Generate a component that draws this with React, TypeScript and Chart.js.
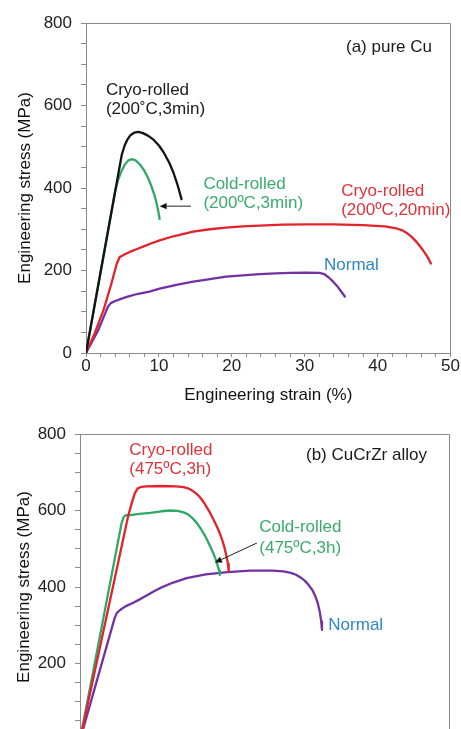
import React, { useEffect, useRef } from 'react';
import { Chart, registerables } from 'chart.js';

Chart.register(...registerables);

const FONT = "'Liberation Sans', Arial, Helvetica, sans-serif";

// ---------- (a) pure Cu ----------
const cuCryo3Strain = [0, 4.9, 5.3, 5.7, 6.1, 6.6, 7.2, 7.8, 8.5, 9.2, 10.0, 10.7, 11.4, 12.0, 12.6, 13.1];
const cuCryo3Stress = [0, 480, 503, 518, 528, 534, 536, 533, 527, 518, 503, 485, 462, 437, 405, 373];

const cuCold3Strain = [0, 4.0, 4.4, 4.9, 5.3, 5.8, 6.3, 6.8, 7.4, 8.0, 8.5, 9.0, 9.4, 9.7, 9.9, 10.1];
const cuCold3Stress = [0, 392, 420, 442, 456, 467, 470, 467, 457, 442, 425, 403, 382, 362, 345, 325];

const cuCryo20Strain = [0, 1.2, 2.4, 3.4, 4.2, 4.6, 5.2, 6.0, 7.0, 8.0, 9.0, 10.1, 12.0, 14.7, 17.0, 19.2, 21.5, 23.8, 27.0, 30.0, 34.0, 38.0, 41.0, 42.4, 43.3, 44.0, 44.7, 45.3, 45.9, 46.5, 47.0, 47.3];
const cuCryo20Stress = [0, 48, 104, 163, 215, 232, 238, 245, 252, 259, 266, 273, 283, 294, 300, 304, 307, 309, 311, 312, 312, 310, 307, 303, 298, 291, 281, 270, 257, 242, 228, 217];

const cuNormalStrain = [0, 1.7, 2.6, 3.0, 3.4, 4.0, 4.6, 5.6, 7.0, 8.7, 10.1, 12.4, 14.7, 17.0, 19.2, 21.5, 23.8, 26.0, 28.0, 30.0, 32.0, 32.7, 33.3, 33.9, 34.5, 35.0, 35.5];
const cuNormalStress = [0, 56, 95, 112, 121, 126, 130, 136, 143, 149, 156, 165, 173, 179, 185, 188, 191, 193, 194, 194.5, 194, 191, 183, 173, 161, 149, 137];

// ---------- (b) CuCrZr alloy ----------
const alloyCryoStrain = [0, 6.5, 7.0, 7.4, 7.8, 8.3, 9.0, 11.0, 13.0, 14.0, 14.6, 15.1, 15.6, 16.0, 16.4, 16.8, 17.2, 17.6, 18.0, 18.4, 18.8, 19.2, 19.5, 19.8, 20.0, 20.1];
const alloyCryoStress = [0, 585, 620, 645, 658, 662, 663, 664, 663, 661, 658, 653, 646, 639, 630, 619, 606, 593, 578, 562, 545, 524, 505, 480, 460, 441];

const alloyColdStrain = [0, 5.6, 5.9, 6.2, 6.8, 8.0, 9.5, 11.0, 12.2, 13.2, 14.0, 14.6, 15.2, 15.8, 16.3, 16.8, 17.2, 17.6, 18.0, 18.3, 18.6, 18.8, 18.9];
const alloyColdStress = [0, 565, 583, 588, 588, 591, 594, 598, 600, 599, 595, 590, 580, 567, 553, 537, 522, 506, 489, 474, 456, 443, 432];

const alloyNormalStrain = [0, 4.7, 5.0, 5.5, 6.2, 7.2, 8.2, 9.0, 10.0, 10.8, 12.5, 14.4, 17.0, 19.9, 23.0, 26.0, 27.5, 28.5, 29.2, 29.8, 30.4, 30.9, 31.4, 31.8, 32.1, 32.4, 32.6, 32.7];
const alloyNormalStress = [0, 320, 333, 341, 350, 359, 369, 378, 389, 397, 411, 423, 433, 439, 443, 443, 441, 437, 432, 425, 416, 405, 392, 376, 360, 335, 310, 288];

// axis ranges / tick labels
const strainMin = 0;
const strainMax = 50;
const strainStep = 2;
const strainLabelEvery = 10;
const stressMin = 0;
const stressMax = 800;
const stressStep = 50;
const stressLabelEvery = 200;

const xTitle = 'Engineering strain (%)';
const yTitle = 'Engineering stress (MPa)';

// annotation texts anchored in data coordinates
const cuNotes = [
  { text: '(a) pure Cu', x: 35.66, y: 742, tone: 'text' },
  { text: 'Cryo-rolled', x: 2.73, y: 637, tone: 'black' },
  { text: '(200˚C,3min)', x: 2.73, y: 591, tone: 'black' },
  { text: 'Cold-rolled', x: 16.1, y: 410, tone: 'green' },
  { text: '(200ºC,3min)', x: 16.1, y: 364, tone: 'green' },
  { text: 'Cryo-rolled', x: 35.0, y: 391, tone: 'red' },
  { text: '(200ºC,20min)', x: 35.0, y: 347, tone: 'red' },
  { text: 'Normal', x: 32.65, y: 213, tone: 'blue' },
];
const cuArrows = [{ fromX: 14.4, fromY: 356, toX: 10.1, toY: 356 }];

const alloyNotes = [
  { text: '(b) CuCrZr alloy', x: 30.54, y: 744, tone: 'text' },
  { text: 'Cryo-rolled', x: 6.66, y: 758, tone: 'red' },
  { text: '(475ºC,3h)', x: 6.66, y: 708, tone: 'red' },
  { text: 'Cold-rolled', x: 24.23, y: 555, tone: 'green' },
  { text: '(475ºC,3h)', x: 24.23, y: 500, tone: 'green' },
  { text: 'Normal', x: 33.56, y: 299, tone: 'blue' },
];
const alloyArrows = [{ fromX: 23.9, fromY: 515, toX: 18.24, toY: 464 }];

// styles
const COLORS: Record<string, string> = {
  black: '#141414',
  green: '#2fa866',
  red: '#e2232b',
  purple: '#7232a2',
  blue: '#2e86c6',
  text: '#1a1a1a',
  axis: '#8a8a8a',
};
const TEXT_COLORS: Record<string, string> = {
  black: '#1a1a1a',
  green: '#3aaa6e',
  red: '#e0323a',
  blue: '#2e86c6',
  text: '#1a1a1a',
};

const series = (xs: number[], ys: number[], color: string) => ({
  data: xs.map((x, i) => ({ x, y: ys[i] })),
  borderColor: color,
  backgroundColor: color,
  borderWidth: 2.3,
  borderJoinStyle: 'round' as const,
  borderCapStyle: 'round' as const,
  pointRadius: 0,
  fill: false,
  tension: 0,
});

const overlayPlugin = {
  id: 'overlay',
  afterDatasetsDraw(chart: any, _args: any, opts: any) {
    const { ctx, chartArea } = chart;
    const sx = chart.scales.x;
    const sy = chart.scales.y;
    ctx.save();
    // frame (top + right)
    ctx.strokeStyle = COLORS.axis;
    ctx.lineWidth = 1;
    ctx.beginPath();
    ctx.moveTo(chartArea.left, Math.round(chartArea.top) + 0.5);
    ctx.lineTo(Math.round(chartArea.right) - 0.5, Math.round(chartArea.top) + 0.5);
    ctx.lineTo(Math.round(chartArea.right) - 0.5, chartArea.bottom);
    ctx.stroke();
    // texts
    ctx.font = `17px ${FONT}`;
    ctx.textAlign = 'left';
    ctx.textBaseline = 'middle';
    for (const n of opts.notes || []) {
      ctx.fillStyle = TEXT_COLORS[n.tone];
      ctx.fillText(n.text, sx.getPixelForValue(n.x), sy.getPixelForValue(n.y));
    }
    // arrows
    for (const a of opts.arrows || []) {
      const x1 = sx.getPixelForValue(a.fromX);
      const y1 = sy.getPixelForValue(a.fromY);
      const x2 = sx.getPixelForValue(a.toX);
      const y2 = sy.getPixelForValue(a.toY);
      const ang = Math.atan2(y2 - y1, x2 - x1);
      const head = 7;
      const half = 3.2;
      ctx.strokeStyle = '#222';
      ctx.fillStyle = '#111';
      ctx.lineWidth = 1;
      ctx.beginPath();
      ctx.moveTo(x1, y1);
      ctx.lineTo(x2 - Math.cos(ang) * head, y2 - Math.sin(ang) * head);
      ctx.stroke();
      const bx = x2 - Math.cos(ang) * head;
      const by = y2 - Math.sin(ang) * head;
      ctx.beginPath();
      ctx.moveTo(x2, y2);
      ctx.lineTo(bx + Math.sin(ang) * half, by - Math.cos(ang) * half);
      ctx.lineTo(bx - Math.sin(ang) * half, by + Math.cos(ang) * half);
      ctx.closePath();
      ctx.fill();
    }
    ctx.restore();
  },
};

type PanelProps = {
  top: number;
  height: number;
  datasets: any[];
  yWidth: number;
  padTop: number;
  padRight: number;
  yTitlePad: number;
  yLabelPad: number;
  notes: any[];
  arrows: any[];
};

function Panel(p: PanelProps) {
  const ref = useRef<HTMLCanvasElement>(null);
  useEffect(() => {
    if (!ref.current) return;
    const tickFont = { family: FONT, size: 17, lineHeight: 1 };
    const titleFont = { family: FONT, size: 17, lineHeight: 1.2 };
    const chart = new Chart(ref.current, {
      type: 'line',
      data: { datasets: p.datasets },
      plugins: [overlayPlugin],
      options: {
        animation: false,
        responsive: false,
        maintainAspectRatio: false,
        layout: { padding: { top: p.padTop, right: p.padRight, left: 0, bottom: 0 } },
        plugins: {
          legend: { display: false },
          tooltip: { enabled: false },
          overlay: { notes: p.notes, arrows: p.arrows },
        } as any,
        scales: {
          x: {
            type: 'linear',
            min: strainMin,
            max: strainMax,
            afterFit: (s: any) => { s.height = 53; },
            border: { display: true, color: COLORS.axis, width: 1 },
            grid: { display: true, drawOnChartArea: false, drawTicks: true, tickLength: 4, color: COLORS.axis },
            ticks: {
              stepSize: strainStep,
              autoSkip: false,
              maxRotation: 0,
              minRotation: 0,
              padding: 1,
              color: '#222',
              font: tickFont,
              callback: (v: any) => (Number(v) % strainLabelEvery === 0 ? String(v) : ''),
            },
            title: { display: true, text: xTitle, color: '#111', font: titleFont, padding: { top: 0, bottom: 0 } },
          },
          y: {
            type: 'linear',
            min: stressMin,
            max: stressMax,
            afterFit: (s: any) => { s.width = p.yWidth; },
            border: { display: true, color: COLORS.axis, width: 1 },
            grid: { display: true, drawOnChartArea: false, drawTicks: true, tickLength: 5, color: COLORS.axis },
            ticks: {
              stepSize: stressStep,
              autoSkip: false,
              padding: p.yLabelPad,
              color: '#222',
              font: tickFont,
              callback: (v: any) => (Number(v) % stressLabelEvery === 0 ? String(v) : ''),
            },
            title: { display: true, text: yTitle, color: '#111', font: titleFont, padding: { top: p.yTitlePad, bottom: 0 } },
          },
        },
      },
    } as any);
    return () => chart.destroy();
  }, []);
  return (
    <div style={{ position: 'absolute', left: 0, top: p.top, width: 461, height: p.height }}>
      <canvas ref={ref} width={461} height={p.height} style={{ width: 461, height: p.height, display: 'block' }} />
    </div>
  );
}

export default function App() {
  const cuSets = [
    series(cuCryo3Strain, cuCryo3Stress, COLORS.black),
    series(cuCold3Strain, cuCold3Stress, COLORS.green),
    series(cuCryo20Strain, cuCryo20Stress, COLORS.red),
    series(cuNormalStrain, cuNormalStress, COLORS.purple),
  ];
  const alloySets = [
    series(alloyCryoStrain, alloyCryoStress, COLORS.red),
    series(alloyColdStrain, alloyColdStress, COLORS.green),
    series(alloyNormalStrain, alloyNormalStress, COLORS.purple),
  ];
  return (
    <div style={{ position: 'absolute', left: 0, top: 0, width: 461, height: 729, overflow: 'hidden', background: '#fff' }}>
      <Panel top={0} height={406} datasets={cuSets} yWidth={86} padTop={23} padRight={9} yTitlePad={15} yLabelPad={9} notes={cuNotes} arrows={cuArrows} />
      <Panel top={406} height={387} datasets={alloySets} yWidth={80} padTop={28} padRight={11} yTitlePad={14} yLabelPad={9} notes={alloyNotes} arrows={alloyArrows} />
    </div>
  );
}
